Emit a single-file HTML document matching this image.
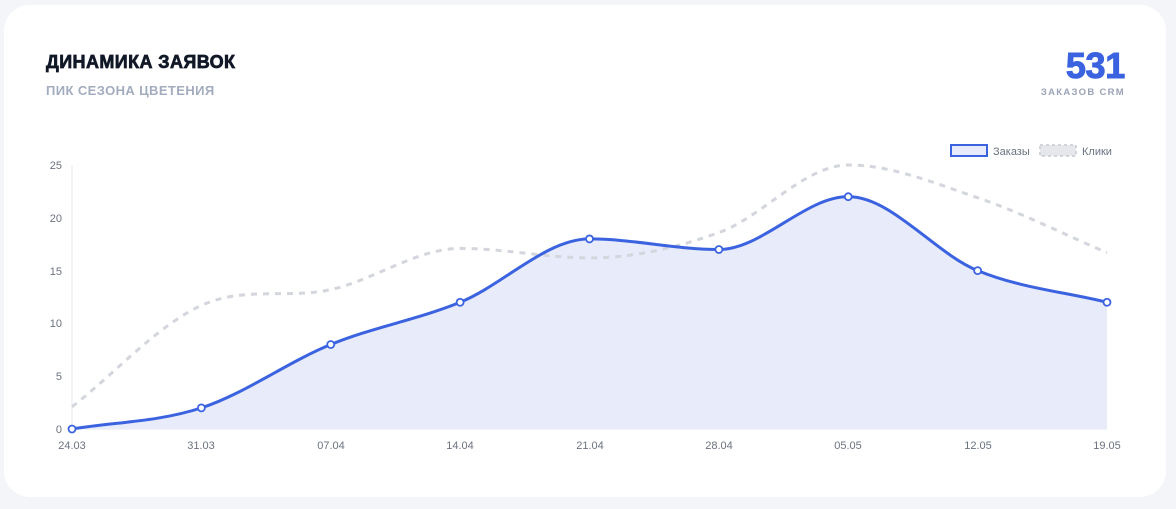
<!DOCTYPE html>
<html><head><meta charset="utf-8"><style>
html,body{margin:0;padding:0;width:1176px;height:509px;background:#f4f5f8;overflow:hidden;font-family:"Liberation Sans",sans-serif}
.card{position:absolute;left:4px;top:5px;width:1162px;height:492px;background:#fff;border-radius:26px}
.t{position:absolute;left:46px;top:52px;font-size:18px;font-weight:bold;color:#111827;letter-spacing:0.4px;-webkit-text-stroke:0.7px #111827}
.s{position:absolute;left:46px;top:83px;font-size:13px;font-weight:bold;color:#a3acbf;letter-spacing:0.4px}
.n{position:absolute;right:51px;top:45px;font-size:36px;font-weight:bold;color:#3b63e0;letter-spacing:-0.3px;-webkit-text-stroke:1px #3b63e0}
.c{position:absolute;right:51px;top:87px;font-size:9.5px;font-weight:bold;color:#9aa3b5;letter-spacing:1.3px}
svg{position:absolute;left:0;top:0}
</style></head><body>
<div class="card"></div>
<div class="t">ДИНАМИКА ЗАЯВОК</div>
<div class="s">ПИК СЕЗОНА ЦВЕТЕНИЯ</div>
<div class="n">531</div>
<div class="c">ЗАКАЗОВ CRM</div>
<svg id="g" width="1176" height="509" font-family="Liberation Sans, sans-serif" font-size="11" fill="#6b7280">
<line x1="72" y1="165" x2="72" y2="429" stroke="#e5e7eb"/>
<line x1="72" y1="429" x2="1107" y2="429" stroke="#e5e7eb"/>
<g text-anchor="end">
<text x="62" y="169">25</text><text x="62" y="222">20</text><text x="62" y="275">15</text>
<text x="62" y="327">10</text><text x="62" y="380">5</text><text x="62" y="433">0</text></g>
<g text-anchor="middle">
<text x="72" y="449">24.03</text><text x="201" y="449">31.03</text><text x="331" y="449">07.04</text>
<text x="460" y="449">14.04</text><text x="590" y="449">21.04</text><text x="719" y="449">28.04</text>
<text x="848" y="449">05.05</text><text x="978" y="449">12.05</text><text x="1107" y="449">19.05</text></g>
<rect x="951" y="145" width="36" height="11" fill="#e6eafb" stroke="#3b63e0" stroke-width="2"/>
<text x="993" y="155">Заказы</text>
<rect x="1040" y="145" width="36" height="11" fill="#e5e7eb" stroke="#d1d5db" stroke-width="2" stroke-dasharray="3 3"/>
<text x="1082" y="155">Клики</text>
<path id="area" fill="#e8ebfa"/>
<path id="clk" fill="none" stroke="#d3d6dd" stroke-width="3" stroke-dasharray="6 6"/>
<path id="ord" fill="none" stroke="#3b63e0" stroke-width="3"/>
<g id="dots"></g>
</svg>
<script>
var xs=[],o=[0,2,8,12,18,17,22,15,12],c=[2.1,11.7,13.2,17.1,16.2,18.6,25,21.9,16.7];
for(var i=0;i<9;i++)xs.push(72+i*129.375);
function Y(v){return 429-v*10.56;}
function path(vals){var p=vals.map(function(v,i){return[xs[i],Y(v)]});var d="M"+p[0][0]+","+p[0][1];
var n=p.length,m=[];for(var i=0;i<n;i++){var a=p[Math.max(i-1,0)],b=p[Math.min(i+1,n-1)];
var dy=(b[1]-a[1])/(b[0]-a[0]);if(i>0&&i<n-1){var s1=p[i][1]-p[i-1][1],s2=p[i+1][1]-p[i][1];if(s1*s2<=0)dy=0;}m.push(dy);}
for(var i=0;i<n-1;i++){var h=(p[i+1][0]-p[i][0])/3;d+=" C"+(p[i][0]+h)+","+(p[i][1]+m[i]*h)+" "+(p[i+1][0]-h)+","+(p[i+1][1]-m[i+1]*h)+" "+p[i+1][0]+","+p[i+1][1];}
return d;}
var od=path(o);
document.getElementById("ord").setAttribute("d",od);
document.getElementById("clk").setAttribute("d",path(c));
document.getElementById("area").setAttribute("d",od+" L1107,429 L72,429 Z");
var g=document.getElementById("dots"),h="";
for(var i=0;i<9;i++)h+='<circle cx="'+xs[i]+'" cy="'+Y(o[i])+'" r="3.5" fill="#fff" stroke="#3b63e0" stroke-width="1.8"/>';
g.innerHTML=h;
</script>
</body></html>
